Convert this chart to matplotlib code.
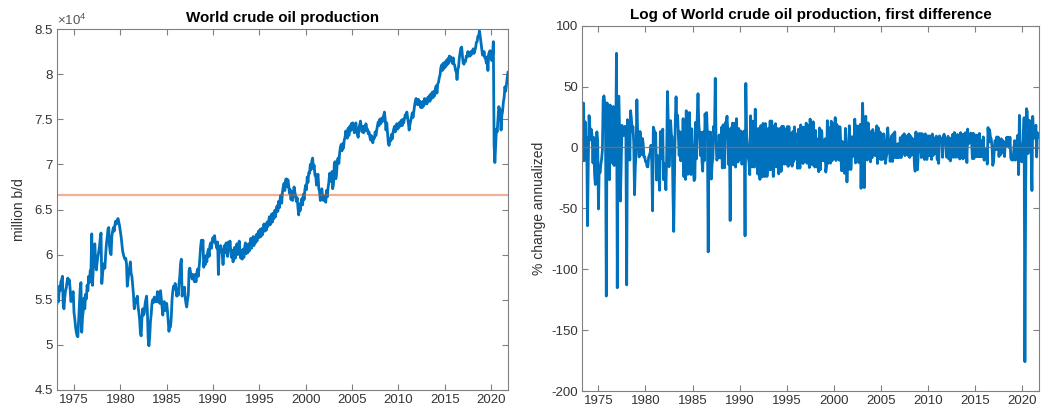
import numpy as np
import matplotlib
matplotlib.use('Agg')
import matplotlib.pyplot as plt

plt.rcParams['font.family'] = ['Liberation Sans', 'DejaVu Sans']
plt.rcParams['axes.unicode_minus'] = False
plt.rcParams['mathtext.fontset'] = 'custom'
plt.rcParams['mathtext.rm'] = 'Liberation Sans'

# ---------------- data (thousand barrels per day, monthly, Mar 1973 - Nov 2021) ----------------
start_year = 1973 + 2 / 12.0

prod_1970s = [
    54.6, 55.3, 54.8, 56.5, 56.0, 57.0, 57.2, 57.6, 54.6, 54.0,                # 1973 Mar-Dec
    55.2, 56.0, 56.3, 57.0, 57.4, 56.8, 57.2, 56.2, 54.8, 55.0, 55.6, 55.9,    # 1974
    53.6, 52.9, 52.0, 51.4, 51.0, 50.9, 52.6, 54.5, 56.2, 56.9, 51.4, 53.0,    # 1975
    53.8, 55.2, 54.0, 55.6, 55.1, 56.6, 56.0, 57.6, 56.9, 58.2, 58.4, 62.3,    # 1976
    56.6, 58.5, 60.6, 61.2, 59.0, 58.3, 59.2, 59.8, 60.3, 60.9, 61.8, 62.4,    # 1977
    56.8, 57.9, 58.6, 59.0, 58.5, 60.0, 61.2, 61.9, 62.8, 63.0, 61.0, 60.2,    # 1978
    60.0, 62.0, 62.6, 63.0, 62.6, 63.3, 63.7, 63.4, 63.8, 64.0, 63.6, 63.2,    # 1979
]
prod_1980s = [
    62.6, 62.0, 61.2, 60.4, 60.0, 59.7, 59.5, 59.6, 59.0, 56.5, 57.3, 58.0,    # 1980
    58.6, 59.2, 57.9, 57.6, 56.6, 55.6, 54.0, 54.6, 55.1, 54.7, 55.4, 54.2,    # 1981
    53.6, 52.8, 51.3, 51.0, 53.0, 54.0, 53.3, 53.5, 54.5, 55.0, 55.4, 53.8,    # 1982
    50.8, 49.9, 50.8, 52.6, 53.4, 54.6, 55.0, 54.7, 55.3, 54.8, 55.1, 54.8,    # 1983
    55.9, 54.8, 55.8, 54.6, 56.0, 55.2, 54.2, 53.3, 54.6, 54.8, 53.8, 54.5,    # 1984
    54.6, 53.8, 52.6, 51.5, 52.4, 52.0, 53.1, 55.1, 56.0, 56.5, 56.2, 56.8,    # 1985
    56.3, 55.4, 56.0, 55.5, 56.8, 57.6, 59.0, 59.5, 55.4, 56.0, 55.8, 56.4,    # 1986
    55.2, 54.6, 54.2, 55.0, 55.5, 58.2, 58.5, 58.0, 57.6, 57.3, 57.8, 57.4,    # 1987
    57.0, 57.8, 57.0, 57.9, 58.4, 57.6, 58.6, 59.6, 60.9, 61.6, 60.9, 61.6,    # 1988
    58.6, 59.4, 58.9, 59.9, 59.2, 60.2, 60.6, 59.8, 61.0, 61.3, 60.7, 61.5,    # 1989
]
prod_1990s = [
    61.9, 61.4, 62.1, 61.4, 61.1, 60.7, 61.4, 57.8, 60.4, 60.9, 61.0, 60.6,    # 1990
    60.0, 58.9, 60.2, 61.0, 60.2, 61.3, 60.6, 59.8, 61.4, 60.7, 61.5, 60.4,    # 1991
    59.7, 60.5, 59.2, 60.1, 60.8, 59.6, 60.6, 61.2, 60.0, 61.0, 61.5, 60.3,    # 1992
    59.6, 60.4, 59.5, 60.6, 59.7, 60.8, 61.3, 60.1, 61.0, 60.2, 61.2, 60.4,    # 1993
    61.2, 61.8, 60.7, 61.5, 62.0, 61.0, 61.9, 61.3, 62.2, 61.5, 62.3, 62.6,    # 1994
    61.9, 62.8, 62.0, 62.9, 62.2, 62.8, 63.4, 62.6, 63.3, 62.7, 63.6, 63.1,    # 1995
    63.7, 64.2, 63.3, 64.1, 64.5, 63.6, 64.6, 64.0, 64.9, 64.2, 65.1, 65.4,    # 1996
    64.8, 65.9, 65.2, 66.2, 66.6, 65.7, 67.0, 67.5, 67.9, 67.1, 68.3, 68.4,    # 1997
    67.5, 68.3, 67.7, 66.8, 67.2, 66.1, 67.0, 66.0, 66.8, 67.5, 66.9, 66.5,    # 1998
    65.9, 66.3, 65.2, 64.4, 65.6, 64.9, 65.8, 66.2, 65.5, 66.7, 66.1, 67.2,    # 1999
]
prod_2000s = [
    67.7, 67.2, 68.6, 68.0, 69.1, 69.0, 70.0, 69.4, 70.4, 70.7, 69.6, 69.9,    # 2000
    68.8, 68.9, 67.7, 68.6, 68.9, 67.3, 67.0, 66.0, 67.0, 67.3, 66.3, 66.0,    # 2001
    66.5, 66.2, 65.8, 67.1, 66.4, 67.4, 68.0, 69.0, 68.3, 68.1, 69.2, 67.3,    # 2002
    67.8, 69.9, 70.3, 68.4, 68.9, 70.4, 70.7, 70.1, 71.3, 71.9, 72.2, 71.5,    # 2003
    72.3, 71.8, 72.7, 73.0, 73.7, 73.3, 72.9, 74.0, 73.2, 74.2, 73.7, 74.5,    # 2004
    73.9, 74.6, 74.0, 73.5, 74.2, 74.6, 73.8, 73.3, 73.0, 74.0, 74.4, 74.8,    # 2005
    74.1, 73.6, 74.2, 73.5, 74.2, 73.7, 74.5, 74.0, 73.9, 73.4, 73.6, 73.1,    # 2006
    72.7, 73.2, 72.7, 72.4, 73.0, 72.9, 73.6, 73.2, 73.8, 74.3, 74.7, 74.3,    # 2007
    75.0, 74.5, 75.1, 74.7, 75.2, 75.4, 75.8, 75.0, 73.8, 74.6, 73.5, 72.4,    # 2008
    72.1, 72.8, 72.6, 73.3, 72.8, 73.5, 73.9, 74.2, 73.6, 74.3, 74.5, 73.9,    # 2009
]
prod_2010s = [
    74.5, 74.1, 74.7, 74.3, 74.9, 74.3, 75.0, 74.6, 75.1, 75.5, 75.2, 75.8,    # 2010
    75.2, 74.6, 73.8, 74.4, 74.8, 75.2, 75.7, 75.2, 75.8, 76.5, 77.0, 77.3,    # 2011
    76.8, 76.6, 77.2, 76.6, 77.0, 76.3, 76.8, 76.3, 77.0, 76.5, 77.3, 76.8,    # 2012
    77.2, 76.7, 77.4, 77.0, 77.6, 77.0, 77.8, 77.3, 78.0, 77.4, 78.1, 77.6,    # 2013
    78.4, 78.7, 77.9, 78.9, 79.1, 79.6, 79.9, 80.7, 81.0, 80.4, 81.2, 80.6,    # 2014
    81.3, 80.8, 81.5, 81.0, 81.7, 81.2, 82.0, 81.5, 81.9, 81.4, 81.2, 81.8,    # 2015
    81.1, 81.0, 80.4, 80.3, 79.4, 80.5, 80.8, 81.8, 82.4, 82.9, 83.0, 82.0,    # 2016
    81.2, 81.1, 81.5, 81.4, 82.0, 81.9, 82.5, 82.0, 82.4, 82.0, 82.5, 82.2,    # 2017
    82.6, 82.8, 82.3, 82.6, 82.9, 83.5, 83.6, 84.2, 84.2, 84.8, 84.2, 83.5,    # 2018
    82.8, 82.1, 82.1, 82.5, 81.8, 81.7, 81.2, 81.9, 80.4, 82.2, 82.5, 82.6,    # 2019
]
prod_2020s = [
    81.8, 81.5, 81.9, 83.6, 72.2, 70.2, 72.1, 73.9, 73.6, 75.0, 76.4, 76.2,    # 2020
    76.0, 73.8, 75.4, 75.9, 76.9, 77.4, 78.6, 78.1, 78.9, 79.6, 80.2,          # 2021 Jan-Nov
]

x_ticks = [1975, 1980, 1985, 1990, 1995, 2000, 2005, 2010, 2015, 2020]
y1_ticks = [4.5, 5, 5.5, 6, 6.5, 7, 7.5, 8, 8.5]          # x 10^4
y1_labels = ['4.5', '5', '5.5', '6', '6.5', '7', '7.5', '8', '8.5']
y2_ticks = [-200, -150, -100, -50, 0, 50, 100]

title1 = 'World crude oil production'
title2 = 'Log of World crude oil production, first difference'
ylabel1 = 'million b/d'
ylabel2 = '% change annualized'

# ---------------- derived series ----------------
production = np.array(prod_1970s + prod_1980s + prod_1990s + prod_2000s
                      + prod_2010s + prod_2020s) * 1000.0
t = start_year + np.arange(len(production)) / 12.0
dlog = 1200.0 * np.diff(np.log(production))
t2 = t[1:]

BLUE = '#0072BD'
ORANGE = '#D95319'
AXCOL = '#808080'
TXTCOL = '#333333'

fig = plt.figure(figsize=(10.51, 4.17), dpi=100)
W, H = 1051.0, 417.0
ax1 = fig.add_axes([57 / W, 1 - 390 / H, 451 / W, 361 / H])
ax2 = fig.add_axes([582 / W, 1 - 391 / H, 457 / W, 365 / H])


def style(ax):
    for s in ax.spines.values():
        s.set_color(AXCOL)
        s.set_linewidth(0.8)
    ax.tick_params(direction='in', length=4, width=0.8, colors=AXCOL,
                   labelcolor=TXTCOL, labelsize=9.5, top=True, right=True,
                   pad=3)


# left panel
ax1.plot(t, production, color=BLUE, lw=2.0, zorder=2)
ax1.axhline(production.mean(), color=ORANGE, lw=1.6, alpha=0.45, zorder=3)
ax1.set_xlim(t[0], t[-1])
ax1.set_ylim(45000, 85000)
ax1.set_xticks(x_ticks)
ax1.set_yticks([v * 1e4 for v in y1_ticks])
ax1.set_yticklabels(y1_labels)
style(ax1)
ax1.set_title(title1, fontsize=10.9, fontweight='bold', pad=5)
ax1.set_ylabel(ylabel1, fontsize=10, color=TXTCOL, labelpad=6)
ax1.text(0.0, 1.004, r'$\times\mathregular{10^{4}}$', transform=ax1.transAxes,
         ha='left', va='bottom', fontsize=9.5, color='#555555')

# right panel
ax2.plot(t2, dlog, color=BLUE, lw=2.0, zorder=2)
ax2.axhline(dlog.mean(), color=ORANGE, lw=0.9, alpha=0.85, zorder=3)
ax2.set_xlim(t2[0], t2[-1])
ax2.set_ylim(-200, 100)
ax2.set_xticks(x_ticks)
ax2.set_yticks(y2_ticks)
style(ax2)
ax2.set_title(title2, fontsize=11.0, fontweight='bold', pad=5)
ax2.set_ylabel(ylabel2, fontsize=10, color=TXTCOL, labelpad=4)

fig.savefig('out.png', dpi=100)
